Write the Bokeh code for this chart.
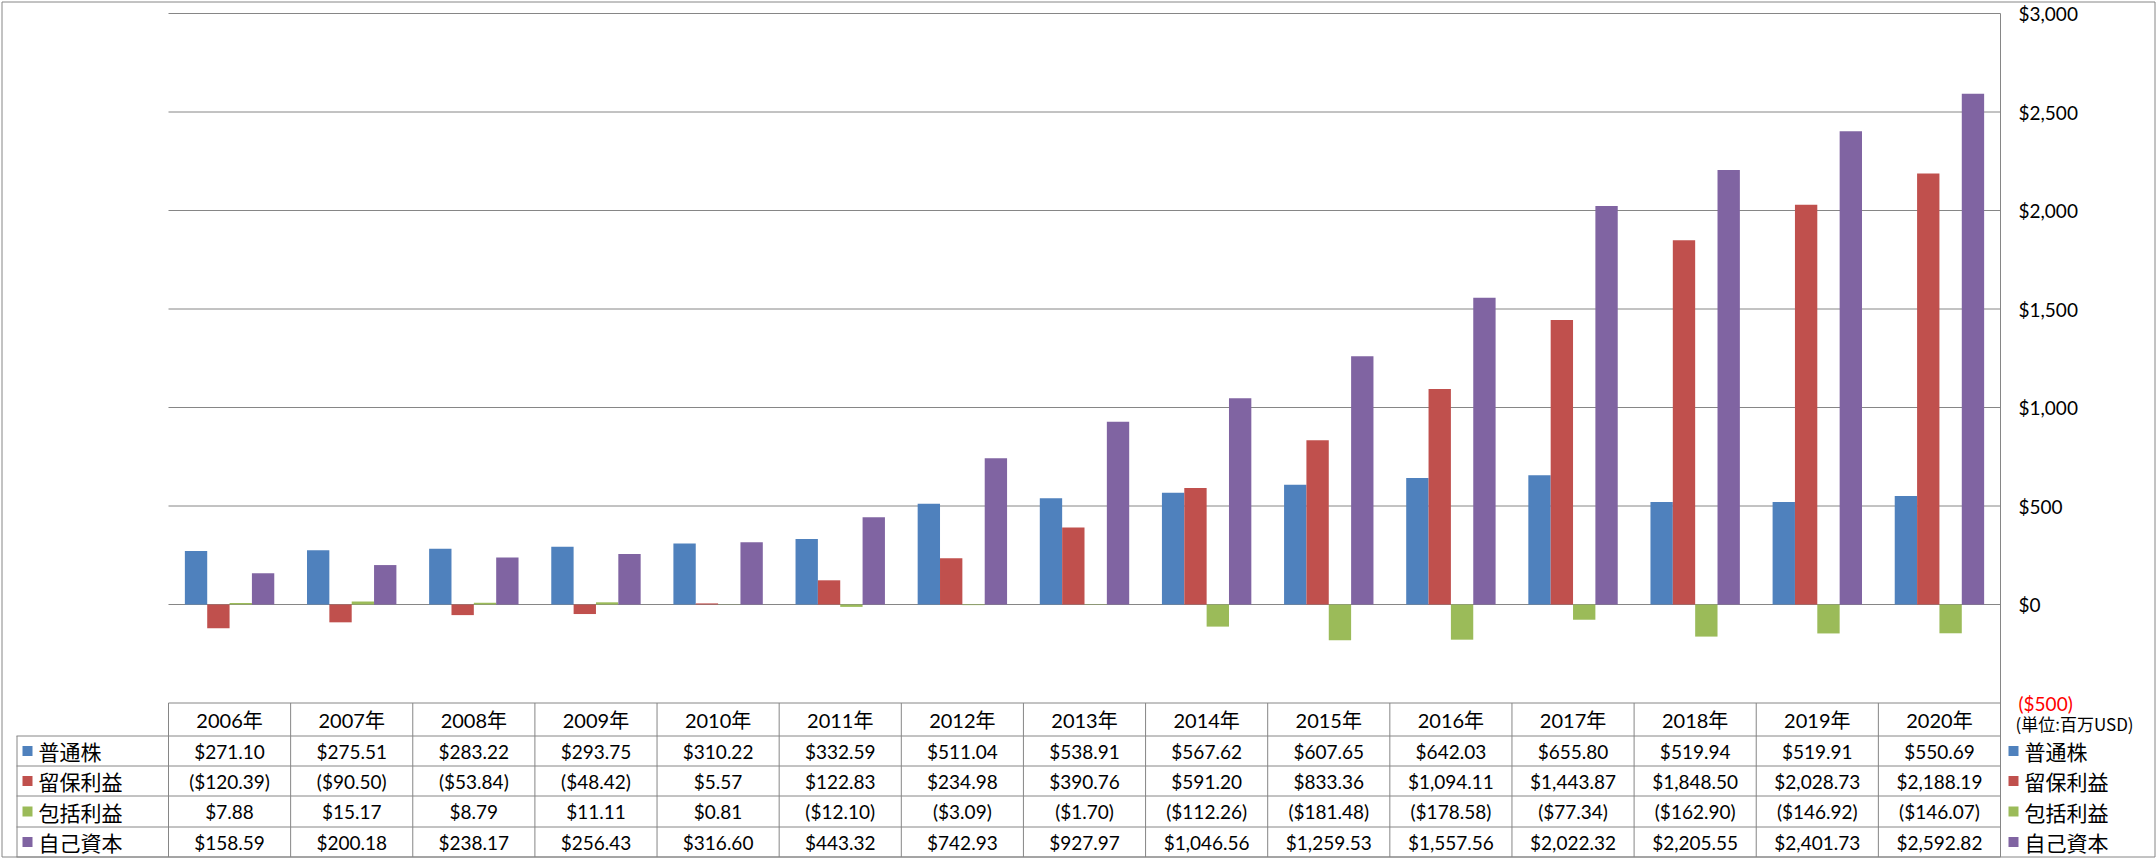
from bokeh.plotting import figure
from bokeh.models import ColumnDataSource, Range1d
from bokeh.transform import dodge
from bokeh.core.properties import value
from bokeh.embed import file_html
from bokeh.resources import INLINE

# ---------------- data ----------------
years = ["2006", "2007", "2008", "2009", "2010", "2011", "2012", "2013",
         "2014", "2015", "2016", "2017", "2018", "2019", "2020"]
year_labels = [y + "年" for y in years]
series_names = ["普通株", "留保利益", "包括利益", "自己資本"]
common_stock = [271.10, 275.51, 283.22, 293.75, 310.22, 332.59, 511.04, 538.91,
                567.62, 607.65, 642.03, 655.80, 519.94, 519.91, 550.69]
retained_earnings = [-120.39, -90.50, -53.84, -48.42, 5.57, 122.83, 234.98, 390.76,
                     591.20, 833.36, 1094.11, 1443.87, 1848.50, 2028.73, 2188.19]
comprehensive_income = [7.88, 15.17, 8.79, 11.11, 0.81, -12.10, -3.09, -1.70,
                        -112.26, -181.48, -178.58, -77.34, -162.90, -146.92, -146.07]
equity = [158.59, 200.18, 238.17, 256.43, 316.60, 443.32, 742.93, 927.97,
          1046.56, 1259.53, 1557.56, 2022.32, 2205.55, 2401.73, 2592.82]
series_values = [common_stock, retained_earnings, comprehensive_income, equity]
colors = ["#4F81BD", "#C0504D", "#9BBB59", "#8064A2"]
y_ticks = [-500, 0, 500, 1000, 1500, 2000, 2500, 3000]
y_tick_labels = ["($500)", "$0", "$500", "$1,000", "$1,500", "$2,000", "$2,500", "$3,000"]
y_tick_colors = ["#FF0000", "#000000", "#000000", "#000000", "#000000", "#000000", "#000000", "#000000"]
unit_note = "(単位:百万USD)"

# ---------------- layout (pixels) ----------------
W, H = 2156, 858
PLOT_L, PLOT_R = 168, 2000
ZERO_Y = 604.0
PPU = 0.197                      # pixels per value unit
N = len(years)
CW = (PLOT_R - PLOT_L) / N       # pixels per category


def yv(py):
    return (ZERO_Y - py) / PPU


def xv(px):
    return (px - PLOT_L) / CW


def fmt(v):
    return f"${v:,.2f}" if v >= 0 else f"(${-v:,.2f})"


GRID = "#868686"
NUM_FONT = "Lato"
CJK_FONT = "Noto Sans CJK JP"
MIX_FONT = f"{NUM_FONT}, '{CJK_FONT}'"

p = figure(width=W, height=H, output_backend="svg", toolbar_location=None,
           x_range=Range1d(xv(0), xv(W)), y_range=Range1d(yv(H), yv(0)),
           x_axis_location=None, y_axis_location=None,
           min_border_left=0, min_border_right=0, min_border_top=0, min_border_bottom=0)
p.outline_line_color = None
p.background_fill_color = "white"
p.border_fill_color = "white"
for g in p.grid:
    g.visible = False
    g.grid_line_color = None

# table geometry (pixels)
row_lines_px = [702.5, 735.5, 765.5, 795.5, 826.5, 856.5]
row_centers_px = [(row_lines_px[i] + row_lines_px[i + 1]) / 2 for i in range(5)]
x_idx = [i + 0.5 for i in range(N)]

# outer border
p.quad(left=xv(1.5), right=xv(W - 1.5), top=yv(1.5), bottom=yv(H - 1.5),
       fill_alpha=0, line_color=GRID, line_width=1)

# value gridlines (plot area only)
gsrc = ColumnDataSource(dict(t=y_ticks))
p.segment(x0=0, x1=N, y0="t", y1="t", source=gsrc, line_color=GRID, line_width=1)

# value axis line (right side)
p.segment(x0=N, x1=N, y0=y_ticks[-1], y1=yv(row_lines_px[-1]), line_color=GRID, line_width=1)

# bars
src = ColumnDataSource(dict(x=x_idx, s0=common_stock, s1=retained_earnings,
                            s2=comprehensive_income, s3=equity))
BW = 0.183
offsets = [-1.5 * BW, -0.5 * BW, 0.5 * BW, 1.5 * BW]
for i in range(4):
    p.vbar(x=dodge("x", offsets[i]), top=f"s{i}", bottom=0,
           width=BW, source=src, fill_color=colors[i], line_color=None)

# table horizontal lines (below header)
hl = [yv(v) for v in row_lines_px[1:]]
p.segment(x0=xv(16), x1=N, y0=hl, y1=hl, line_color=GRID, line_width=1)
# table vertical lines at column boundaries
vsrc_b = ColumnDataSource(dict(x=[i for i in range(N)]))
p.segment(x0="x", x1="x", y0=y_ticks[0], y1=yv(row_lines_px[-1]), source=vsrc_b,
          line_color=GRID, line_width=1)
# legend column left border
p.segment(x0=xv(16.5), x1=xv(16.5), y0=yv(row_lines_px[1]), y1=yv(row_lines_px[-1]),
          line_color=GRID, line_width=1)

# table header
hsrc = ColumnDataSource(dict(x=x_idx, label=year_labels))
p.text(x="x", y=yv(row_centers_px[0]), text="label", source=hsrc,
       text_align="center", text_baseline="middle",
       text_font=value(MIX_FONT), text_font_size="20px", text_color="#000000")

# table values
for i in range(4):
    tsrc = ColumnDataSource(dict(x=x_idx, label=[fmt(v) for v in series_values[i]]))
    p.text(x="x", y=yv(row_centers_px[i + 1]), text="label", source=tsrc,
           text_align="center", text_baseline="middle",
           text_font=value(NUM_FONT), text_font_size="19px", text_color="#000000")

# legend entries: left column of table and right-hand legend
lsrc = ColumnDataSource(dict(y=[yv(c) for c in row_centers_px[1:]], name=series_names, color=colors))
for sq_px, tx_px in [(27, 38), (2013, 2024)]:
    p.scatter(x=xv(sq_px), y="y", marker="square", size=10, fill_color="color",
              line_color=None, source=lsrc)
    p.text(x=xv(tx_px), y="y", text="name", source=lsrc, text_align="left",
           text_baseline="middle", text_font=value(CJK_FONT), text_font_size="21px",
           text_color="#000000")

# value-axis tick labels
asrc = ColumnDataSource(dict(t=y_ticks, label=y_tick_labels, color=y_tick_colors))
p.text(x=xv(2018), y="t", text="label", text_color="color", source=asrc,
       text_align="left", text_baseline="middle",
       text_font=value(NUM_FONT), text_font_size="19px")

# unit note
p.text(x=[xv(2015)], y=[yv(723)], text=[unit_note], text_align="left", text_baseline="middle",
       text_font=value(CJK_FONT), text_font_size="17px", text_color="#000000")

open("out.html", "w").write(file_html(p, INLINE))
